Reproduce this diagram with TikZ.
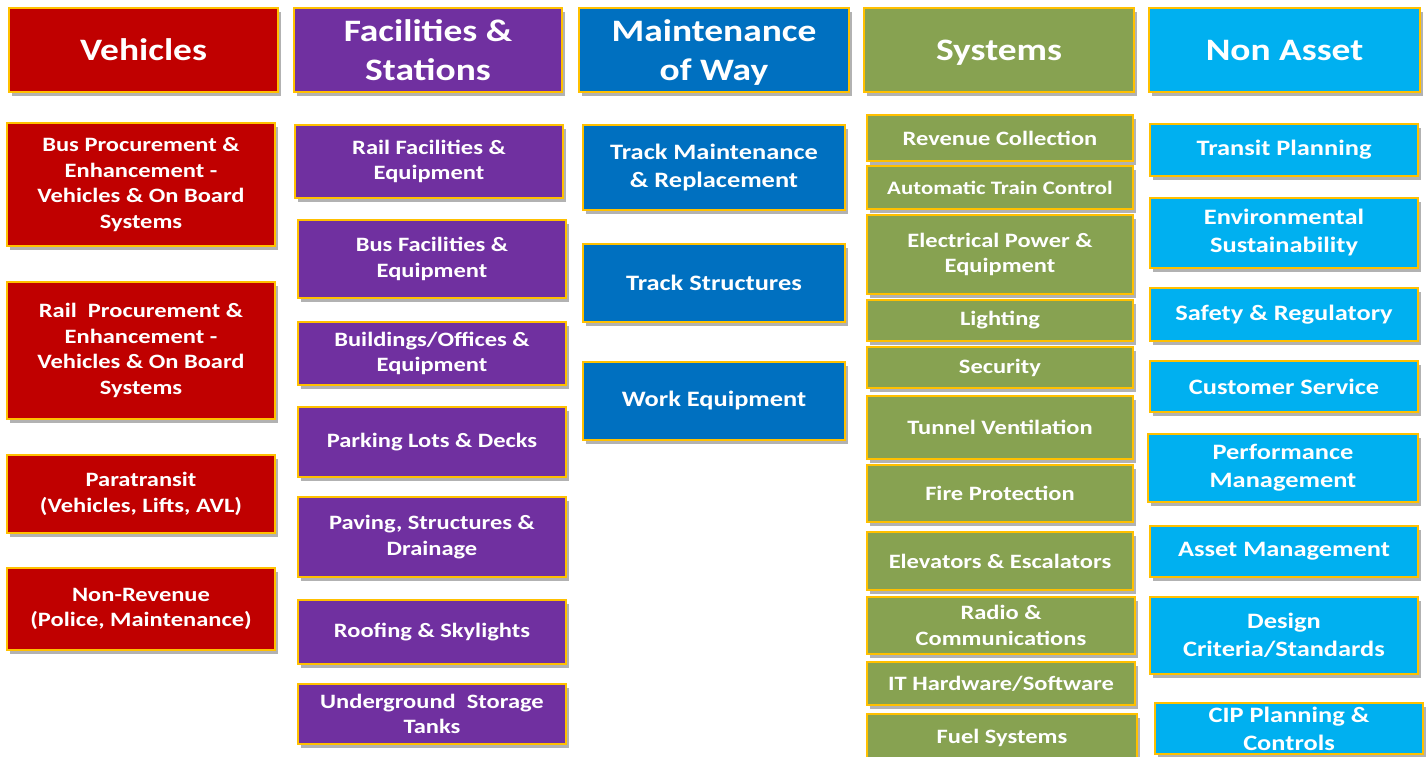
\documentclass[tikz,border=0pt]{standalone}
\usepackage{fontspec}
\setmainfont{Carlito}[FakeStretch=1.2]
\usetikzlibrary{shadows}
\definecolor{gold}{HTML}{FFC000}
\definecolor{vehred}{HTML}{C00000}
\definecolor{facpurple}{HTML}{7030A0}
\definecolor{mowblue}{HTML}{0070C0}
\definecolor{sysgreen}{HTML}{87A251}
\definecolor{nonblue}{HTML}{00B0F0}
\tikzset{
  cell/.style={draw=gold, line width=2.5pt, text=white, align=center, inner sep=0pt,
    font=\bfseries\fontsize{20.4}{25.6}\selectfont,
    drop shadow={shadow xshift=3pt, shadow yshift=-4pt, opacity=0.3, fill=black}},
  bigcell/.style={cell, font=\bfseries\fontsize{22}{28}\selectfont},
  head/.style={cell, minimum height=84pt, text depth=0pt, font=\bfseries\fontsize{31.2}{39}\selectfont},
}
\begin{document}
\begin{tikzpicture}[x=1pt,y=-1pt]
            \useasboundingbox (0,0) rectangle (1428,757);

            % column heads
            \node[head, fill=vehred,    minimum width=269pt] (veh) at (143.5,50) {Vehicles};
            \node[head, fill=facpurple, minimum width=268pt] (fac) at (428,50) {Facilities \&\\Stations};
            \node[head, fill=mowblue,   minimum width=270pt] (mow) at (714,50) {Maintenance\\of Way};
            \node[head, fill=sysgreen,  minimum width=270pt] (sys) at (999,50) {Systems};
            \node[head, fill=nonblue,   minimum width=271pt] (non) at (1284.5,50) {Non Asset};

            % vehicles
            \node[cell, fill=vehred, minimum width=268pt, minimum height=123pt] (veh1) at (141,184.5) {Bus Procurement \&\\Enhancement -\\Vehicles \& On Board\\Systems};
            \node[cell, fill=vehred, minimum width=268pt, minimum height=137pt] (veh2) at (141,350.5) {Rail\ \ Procurement \&\\Enhancement -\\Vehicles \& On Board\\Systems};
            \node[cell, fill=vehred, minimum width=268pt, minimum height=78pt] (veh3) at (141,494) {Paratransit\\(Vehicles, Lifts, AVL)};
            \node[cell, fill=vehred, minimum width=268pt, minimum height=82pt] (veh4) at (141,609) {Non-Revenue\\(Police, Maintenance)};

            % facilities
            \node[cell, fill=facpurple, minimum width=268pt, minimum height=73pt] (fac1) at (429,161.5) {Rail Facilities \&\\Equipment};
            \node[cell, fill=facpurple, minimum width=268pt, minimum height=78pt] (fac2) at (432,259) {Bus Facilities \&\\Equipment};
            \node[cell, fill=facpurple, minimum width=268pt, minimum height=63pt] (fac3) at (432,353.5) {Buildings/Offices \&\\Equipment};
            \node[cell, fill=facpurple, minimum width=268pt, minimum height=70pt] (fac4) at (432,442) {Parking Lots \& Decks};
            \node[cell, fill=facpurple, minimum width=268pt, minimum height=80pt] (fac5) at (432,537) {Paving, Structures \&\\Drainage};
            \node[cell, fill=facpurple, minimum width=268pt, minimum height=64pt] (fac6) at (432,632) {Roofing \& Skylights};
            \node[cell, fill=facpurple, minimum width=268pt, minimum height=60pt] (fac7) at (432,714) {Underground\ \ Storage\\Tanks};

            % maintenance of way
            \node[bigcell, fill=mowblue, minimum width=262pt, minimum height=85pt] (mow1) at (714,167.5) {Track Maintenance\\\& Replacement};
            \node[bigcell, fill=mowblue, minimum width=262pt, minimum height=78pt] (mow2) at (714,283) {Track Structures};
            \node[bigcell, fill=mowblue, minimum width=262pt, minimum height=78pt] (mow3) at (714,401) {Work Equipment};

            % systems
            \node[cell, fill=sysgreen, minimum width=266pt, minimum height=46pt] (sys1) at (1000,138) {Revenue Collection};
            \node[cell, fill=sysgreen, minimum width=266pt, minimum height=43pt, font=\bfseries\fontsize{19}{22}\selectfont] (sys2) at (1000,187.5) {Automatic Train Control};
            \node[cell, fill=sysgreen, minimum width=266pt, minimum height=79pt] (sys3) at (1000,254.5) {Electrical Power \&\\Equipment};
            \node[cell, fill=sysgreen, minimum width=266pt, minimum height=41pt] (sys4) at (1000,320.5) {Lighting};
            \node[cell, fill=sysgreen, minimum width=266pt, minimum height=41pt] (sys5) at (1000,367.5) {Security};
            \node[cell, fill=sysgreen, minimum width=266pt, minimum height=63pt] (sys6) at (1000,427.5) {Tunnel Ventilation};
            \node[cell, fill=sysgreen, minimum width=266pt, minimum height=57pt] (sys7) at (1000,493.5) {Fire Protection};
            \node[cell, fill=sysgreen, minimum width=266pt, minimum height=58pt] (sys8) at (1000,561) {Elevators \& Escalators};
            \node[cell, fill=sysgreen, minimum width=268pt, minimum height=57pt] (sys9) at (1001,625.5) {Radio \&\\Communications};
            \node[cell, fill=sysgreen, minimum width=268pt, minimum height=43pt] (sys10) at (1001,683.5) {IT Hardware/Software};
            \node[cell, fill=sysgreen, minimum width=270pt, minimum height=48pt] (sys11) at (1002,738) {Fuel Systems};

            % non asset
            \node[bigcell, fill=nonblue, minimum width=268pt, minimum height=52pt] (non1) at (1284,150) {Transit Planning};
            \node[bigcell, fill=nonblue, minimum width=268pt, minimum height=70pt] (non2) at (1284,233) {Environmental\\Sustainability};
            \node[bigcell, fill=nonblue, minimum width=268pt, minimum height=53pt] (non3) at (1284,314.5) {Safety \& Regulatory};
            \node[bigcell, fill=nonblue, minimum width=268pt, minimum height=51pt] (non4) at (1284,386.5) {Customer Service};
            \node[bigcell, fill=nonblue, minimum width=270pt, minimum height=68pt] (non5) at (1283,468) {Performance\\Management};
            \node[bigcell, fill=nonblue, minimum width=268pt, minimum height=51pt] (non6) at (1284,551.5) {Asset Management};
            \node[bigcell, fill=nonblue, minimum width=268pt, minimum height=77pt] (non7) at (1284,635.5) {Design\\Criteria/Standards};
            \node[bigcell, fill=nonblue, minimum width=268pt, minimum height=51pt] (non8) at (1289,728.5) {CIP Planning \&\\Controls};
\end{tikzpicture}
\end{document}
